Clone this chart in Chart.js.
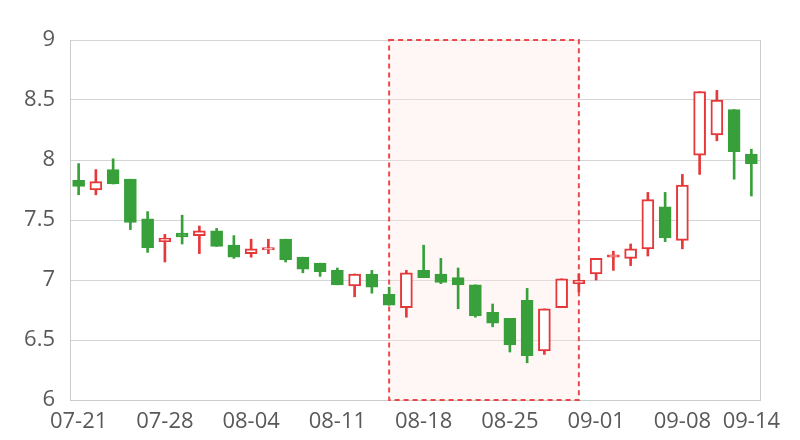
<!DOCTYPE html>
<html>
<head>
<meta charset="utf-8">
<title>K线图</title>
<script src="https://cdn.jsdelivr.net/npm/chart.js@4.4.1/dist/chart.umd.min.js"></script>
<style>
    html, body { margin: 0; padding: 0; background: #ffffff; }
    #wrap { width: 800px; height: 440px; }
</style>
</head>
<body>
<div id="wrap"><canvas id="klineChart" width="800" height="440"></canvas></div>
<script>
// Trading days (2020)
var dates = ['07-21', '07-22', '07-23', '07-24', '07-27', '07-28', '07-29', '07-30', '07-31', '08-03',
             '08-04', '08-05', '08-06', '08-07', '08-10', '08-11', '08-12', '08-13', '08-14', '08-17',
             '08-18', '08-19', '08-20', '08-21', '08-24', '08-25', '08-26', '08-27', '08-28', '08-31',
             '09-01', '09-02', '09-03', '09-04', '09-07', '09-08', '09-09', '09-10', '09-11', '09-14'];

var opens  = [7.83, 7.75, 7.92, 7.84, 7.51, 7.32, 7.39, 7.37, 7.41, 7.29,
              7.22, 7.25, 7.34, 7.19, 7.14, 7.08, 6.95, 7.05, 6.88, 6.77,
              7.08, 7.05, 7.02, 6.96, 6.73, 6.68, 6.83, 6.41, 6.77, 6.97,
              7.05, 7.19, 7.18, 7.26, 7.61, 7.33, 8.04, 8.21, 8.42, 8.05];
var closes = [7.78, 7.82, 7.80, 7.48, 7.27, 7.35, 7.36, 7.41, 7.28, 7.19,
              7.26, 7.27, 7.17, 7.09, 7.07, 6.96, 7.05, 6.94, 6.79, 7.06,
              7.02, 6.98, 6.96, 6.70, 6.64, 6.46, 6.37, 6.76, 7.01, 7.00,
              7.18, 7.21, 7.26, 7.67, 7.35, 7.79, 8.57, 8.50, 8.07, 7.97];
var highs  = [7.97, 7.92, 8.01, 7.84, 7.57, 7.38, 7.54, 7.45, 7.43, 7.37,
              7.34, 7.34, 7.34, 7.19, 7.14, 7.10, 7.05, 7.08, 6.94, 7.08,
              7.29, 7.18, 7.10, 6.96, 6.80, 6.68, 6.93, 6.76, 7.01, 7.05,
              7.18, 7.24, 7.30, 7.73, 7.73, 7.88, 8.57, 8.58, 8.42, 8.09];
var lows   = [7.71, 7.71, 7.80, 7.42, 7.23, 7.15, 7.30, 7.22, 7.28, 7.18,
              7.19, 7.22, 7.15, 7.06, 7.03, 6.96, 6.86, 6.89, 6.79, 6.69,
              7.02, 6.97, 6.76, 6.69, 6.61, 6.40, 6.31, 6.38, 6.77, 6.90,
              7.00, 7.08, 7.12, 7.20, 7.32, 7.26, 7.88, 8.16, 7.84, 7.70];

var yTicks = [6, 6.5, 7, 7.5, 8, 8.5, 9];

// Highlighted period
var markStart = '08-14';
var markEnd = '08-31';

var upColor = '#e5383b';
var downColor = '#38a03a';
var fontFamily = '"Open Sans", "Noto Sans", sans-serif';

function candleColor(i) {
    return closes[i] >= opens[i] ? upColor : downColor;
}

var bodyData = dates.map(function (d, i) { return [opens[i], closes[i]]; });
var wickData = dates.map(function (d, i) { return [lows[i], highs[i]]; });

// Draws the shaded dashed box behind the candles
var markAreaPlugin = {
    id: 'markArea',
    beforeDatasetsDraw: function (chart) {
        var x = chart.scales.x;
        var area = chart.chartArea;
        var ctx = chart.ctx;
        var x1 = x.getPixelForValue(dates.indexOf(markStart));
        var x2 = x.getPixelForValue(dates.indexOf(markEnd));
        ctx.save();
        ctx.fillStyle = 'rgba(255, 228, 228, 0.35)';
        ctx.fillRect(x1, area.top, x2 - x1, area.bottom - area.top);
        ctx.strokeStyle = 'rgba(232, 55, 55, 0.9)';
        ctx.lineWidth = 2;
        ctx.setLineDash([5, 4]);
        ctx.strokeRect(x1, area.top, x2 - x1, area.bottom - area.top);
        ctx.restore();
    }
};

var ctx = document.getElementById('klineChart').getContext('2d');
var klineChart = new Chart(ctx, {
    type: 'bar',
    data: {
        labels: dates,
        datasets: [{
            label: 'body',
            data: bodyData,
            order: 1,
            grouped: false,
            barThickness: 12,
            borderSkipped: false,
            borderWidth: 2,
            borderColor: dates.map(function (d, i) { return candleColor(i); }),
            backgroundColor: dates.map(function (d, i) {
                return closes[i] >= opens[i] ? '#ffffff' : downColor;
            })
        }, {
            label: 'wick',
            data: wickData,
            order: 2,
            grouped: false,
            barThickness: 2,
            borderWidth: 0,
            backgroundColor: dates.map(function (d, i) { return candleColor(i); })
        }]
    },
    options: {
        responsive: false,
        animation: false,
        layout: { padding: { top: 40, right: 40, left: 0, bottom: 0 } },
        plugins: {
            legend: { display: false },
            tooltip: { enabled: false }
        },
        scales: {
            x: {
                offset: true,
                grid: { display: false, drawTicks: false },
                border: { display: true, color: '#cccccc', width: 1 },
                ticks: {
                    autoSkip: false,
                    maxRotation: 0,
                    padding: 9,
                    color: '#595959',
                    font: { family: fontFamily, size: 22 },
                    callback: function (v, i) {
                        return (i % 5 === 0 || i === dates.length - 1) ? dates[i] : '';
                    }
                },
                afterFit: function (scale) { scale.height = 40; }
            },
            y: {
                min: yTicks[0],
                max: yTicks[yTicks.length - 1],
                afterBuildTicks: function (scale) {
                    scale.ticks = yTicks.map(function (v) { return { value: v }; });
                },
                grid: { color: '#d4d4d4', drawTicks: false },
                border: { display: true, color: '#cccccc', width: 1 },
                ticks: {
                    padding: 15,
                    color: '#595959',
                    font: { family: fontFamily, size: 22 },
                    callback: function (v) { return String(v); }
                },
                afterFit: function (scale) { scale.width = 70; }
            },
            y2: {
                position: 'right',
                min: yTicks[0],
                max: yTicks[yTicks.length - 1],
                grid: { drawOnChartArea: false, drawTicks: false },
                border: { display: true, color: '#cccccc', width: 1 },
                ticks: { display: false },
                afterFit: function (scale) { scale.width = 0; }
            }
        }
    },
    plugins: [markAreaPlugin]
});
</script>
</body>
</html>
